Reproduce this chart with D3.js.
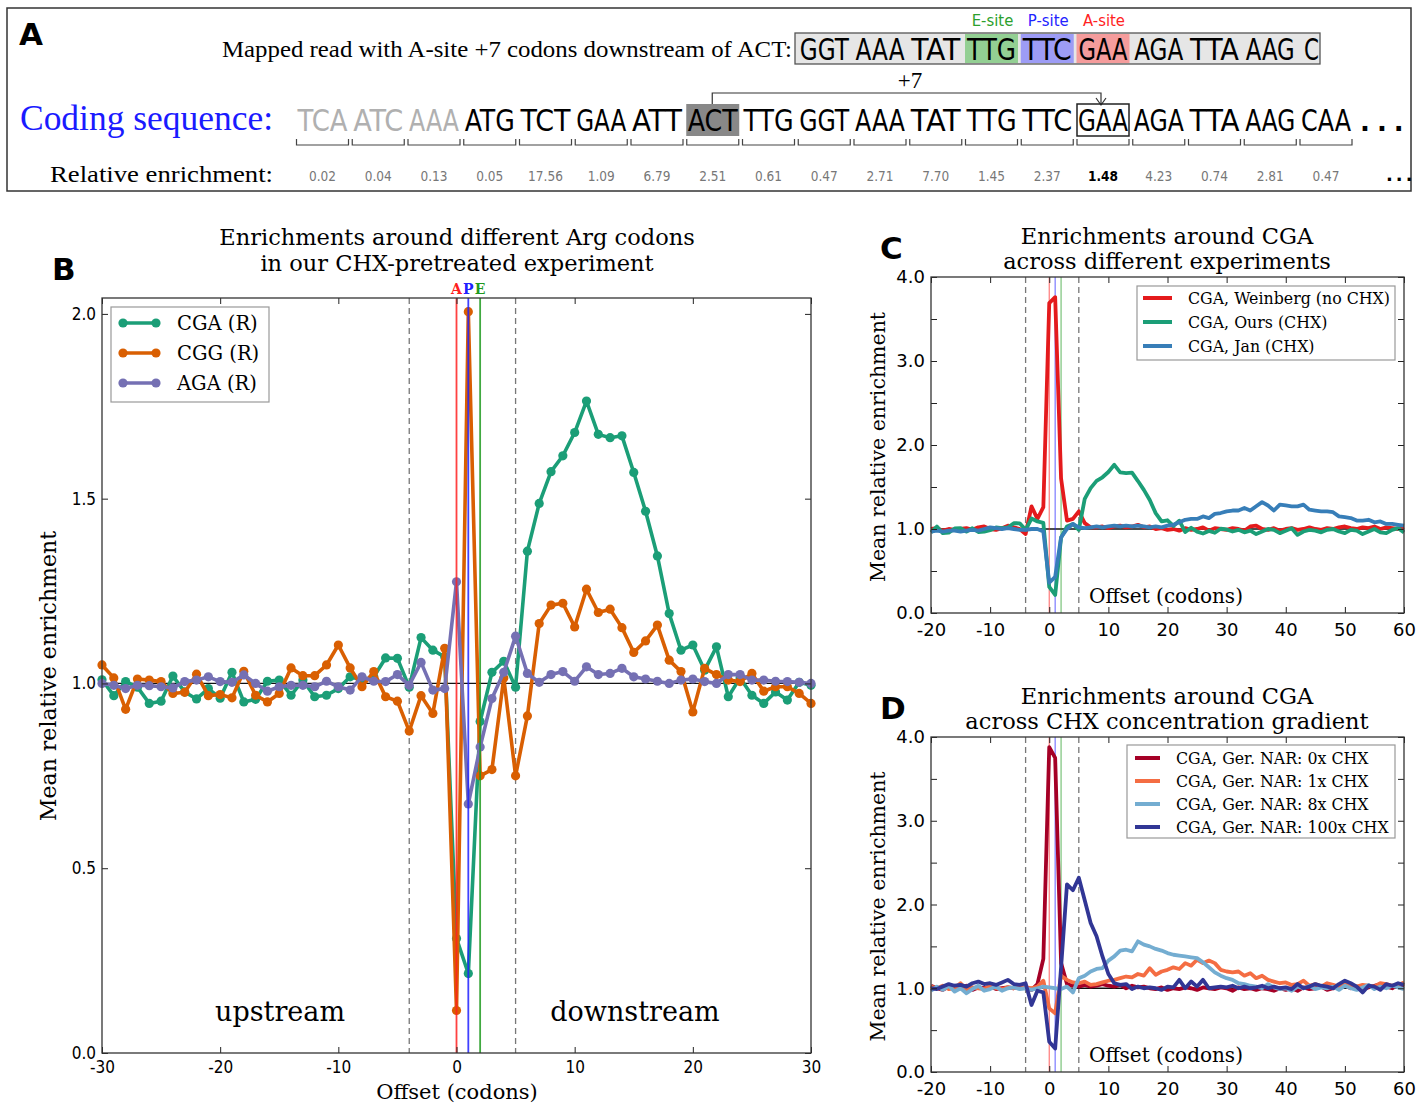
<!DOCTYPE html>
<html><head><meta charset="utf-8">
<script src="https://cdn.jsdelivr.net/npm/d3@7"></script>
<style>body{margin:0;background:#fff}svg{display:block}</style>
</head><body>
<svg id="fig" width="1427" height="1103"></svg>
<script>
// ---------------- DATA ----------------
// Panel A
const codingCodons = ["TCA","ATC","AAA","ATG","TCT","GAA","ATT","ACT","TTG","GGT","AAA","TAT","TTG","TTC","GAA","AGA","TTA","AAG","CAA"];
const codonEnrichment = ["0.02","0.04","0.13","0.05","17.56","1.09","6.79","2.51","0.61","0.47","2.71","7.70","1.45","2.37","1.48","4.23","0.74","2.81","0.47"];
const readCodons = ["GGT","AAA","TAT","TTG","TTC","GAA","AGA","TTA","AAG","C"];
const siteLabels = ["E-site","P-site","A-site"];

// Panel B (offset -30..30)
const offsetsB = d3.range(-30, 31);
const cgaB = [1.01,0.967,1.005,0.99,0.946,0.952,1.02,0.977,0.958,0.986,
  0.96,1.03,0.95,0.957,1.006,1.009,0.968,1.009,0.964,0.968,
  0.986,1.018,1.009,1.018,1.069,1.068,0.99,1.124,1.09,1.072,
  0.31,0.215,0.897,1.03,1.06,0.99,1.358,1.487,1.573,1.616,
  1.679,1.764,1.674,1.665,1.67,1.571,1.466,1.345,1.189,1.09,
  1.104,1.036,1.099,0.964,1.015,0.968,0.946,0.977,0.955,1.003,0.995];
const cggB = [1.05,1.015,0.93,1.012,1.009,1.005,0.973,0.976,1.025,0.967,
  0.97,0.961,1.033,0.968,0.95,0.973,1.042,1.021,1.021,1.05,
  1.104,1.042,0.991,1.032,0.964,0.952,0.871,0.967,0.919,1.095,
  0.115,2.006,0.75,0.767,1.015,0.75,0.912,1.162,1.212,1.217,
  1.153,1.255,1.192,1.201,1.151,1.084,1.115,1.158,1.063,1.032,
  0.923,1.041,1.024,1.009,1.005,1.027,0.979,0.991,0.991,0.973,0.946];
const agaB = [1.0,0.995,0.986,0.995,0.994,0.991,0.988,1.005,1.009,1.018,
  1.005,1.003,1.023,1.0,0.979,0.991,0.995,0.995,0.991,1.006,
  0.991,0.982,1.018,1.006,1.005,1.024,0.995,1.057,0.982,0.986,
  1.275,0.674,0.828,0.959,1.03,1.128,1.027,1.003,1.024,1.032,
  1.006,1.045,1.024,1.027,1.041,1.018,1.012,1.006,1.0,1.009,
  1.012,1.005,1.0,1.024,1.024,1.009,1.009,1.006,1.005,1.003,1.0];
const seriesBNames = ["CGA (R)","CGG (R)","AGA (R)"];

// Panels C, D (offset -20..60)
const offsetsCD = d3.range(-20, 61);
const weinbergC = [1.00,1.01,0.98,1.00,0.99,1.00,1.01,0.99,1.02,1.03,
  1.00,0.99,1.01,1.04,1.02,1.00,0.94,1.27,1.12,1.26,
  3.69,3.76,1.60,1.10,1.12,1.21,1.07,1.02,1.02,1.03,
  1.01,1.03,1.04,1.02,1.03,1.05,1.02,1.03,1.00,1.01,
  0.99,1.00,0.98,1.01,0.99,1.00,1.02,0.98,1.01,1.00,
  0.99,1.01,1.00,0.98,1.03,1.04,1.00,0.99,1.01,0.98,
  1.00,1.01,0.99,1.00,1.02,1.00,0.99,1.01,1.00,1.02,
  1.03,1.01,1.00,1.02,1.01,1.03,1.00,1.02,1.01,1.00,1.02];
const oursC = [0.96,1.03,0.95,0.957,1.006,1.009,0.968,1.009,0.964,0.968,
  0.986,1.018,1.009,1.018,1.069,1.068,0.99,1.124,1.09,1.072,
  0.31,0.215,0.897,1.03,1.06,0.99,1.358,1.487,1.573,1.616,
  1.679,1.764,1.674,1.665,1.67,1.571,1.466,1.345,1.189,1.09,
  1.104,1.036,1.099,0.964,1.015,0.968,0.946,0.977,0.955,1.003,
  0.995,0.97,0.99,0.96,0.98,0.94,0.97,1.0,0.99,0.95,
  0.98,1.01,0.93,0.97,0.99,0.98,0.96,0.99,1.0,0.97,
  0.95,0.99,0.98,0.94,0.97,1.0,0.96,0.95,0.99,1.01,0.96];
const janC = [0.97,0.98,0.97,0.98,0.98,0.97,0.98,0.99,0.98,1.0,
  1.02,1.01,1.0,1.01,1.0,0.99,0.99,1.0,1.0,0.97,
  0.36,0.43,0.9,1.0,1.06,1.02,1.01,1.02,1.03,1.02,
  1.03,1.04,1.03,1.04,1.03,1.04,1.03,1.02,1.03,1.02,
  1.04,1.05,1.08,1.11,1.12,1.12,1.15,1.13,1.18,1.19,
  1.21,1.22,1.22,1.25,1.22,1.27,1.32,1.28,1.22,1.29,
  1.28,1.27,1.27,1.29,1.23,1.22,1.21,1.21,1.2,1.15,
  1.14,1.13,1.1,1.1,1.11,1.08,1.09,1.06,1.06,1.05,1.04];
const seriesCNames = ["CGA, Weinberg (no CHX)","CGA, Ours (CHX)","CGA, Jan (CHX)"];

const chx0D = [1.03,1.0,0.98,1.02,0.99,1.0,1.03,0.98,1.01,1.0,
  1.02,0.99,1.0,1.01,1.0,1.02,1.0,0.98,1.05,1.35,
  3.88,3.75,1.3,1.05,1.03,1.02,1.04,1.02,1.03,1.05,
  1.03,1.02,1.04,1.0,1.03,1.01,1.02,1.0,0.99,1.01,
  0.98,1.0,0.99,1.01,1.0,0.98,1.01,1.0,0.99,1.01,
  1.0,0.97,1.01,0.99,1.0,0.98,1.0,0.99,0.97,1.0,
  0.98,1.0,0.97,1.01,0.99,1.0,1.02,0.98,1.0,1.01,
  1.03,1.0,1.02,0.99,1.01,1.03,1.05,1.02,1.0,1.04,1.02];
const chx1D = [1.02,1.0,1.03,0.99,1.0,1.06,0.98,1.01,1.0,0.99,
  1.03,1.0,0.99,1.01,1.0,1.02,1.01,1.0,1.02,1.09,
  0.76,0.7,1.15,1.1,1.07,1.06,1.08,1.04,1.05,1.07,
  1.09,1.1,1.12,1.14,1.13,1.17,1.15,1.24,1.16,1.2,
  1.22,1.25,1.23,1.3,1.27,1.34,1.3,1.33,1.3,1.22,
  1.2,1.19,1.2,1.15,1.18,1.12,1.15,1.1,1.08,1.06,
  1.07,1.04,1.05,1.09,1.03,1.05,1.02,1.06,1.04,1.02,
  1.05,1.03,1.02,1.04,1.03,1.02,1.06,1.05,1.03,1.04,1.07];
const chx8D = [0.97,1.02,0.98,1.03,0.96,1.0,0.94,0.99,1.03,0.97,
  0.99,1.02,0.97,1.0,1.01,0.99,1.0,0.98,1.0,1.02,
  1.01,1.0,0.99,1.02,0.95,1.12,1.15,1.2,1.23,1.24,
  1.33,1.38,1.45,1.46,1.44,1.56,1.52,1.5,1.47,1.45,
  1.42,1.4,1.39,1.38,1.37,1.36,1.31,1.25,1.19,1.15,
  1.12,1.1,1.06,1.05,1.03,1.02,1.0,1.05,1.01,0.99,
  1.0,0.97,1.02,1.0,1.03,0.99,1.01,1.0,1.02,0.98,
  1.03,1.0,0.98,1.01,1.04,0.99,1.02,1.0,1.03,1.01,0.99];
const chx100D = [1.0,0.99,1.02,1.05,1.03,1.04,1.02,1.06,1.08,1.05,
  1.06,1.04,1.07,1.1,1.05,1.04,1.06,0.8,0.97,0.95,
  0.36,0.28,1.25,2.24,2.17,2.32,2.05,1.78,1.62,1.38,
  1.17,1.06,1.04,1.05,0.99,1.02,1.0,1.01,1.0,0.98,
  1.02,1.01,1.1,1.0,1.08,1.02,1.1,1.0,1.01,1.02,
  1.01,1.03,1.0,1.02,1.0,1.01,1.03,1.0,1.02,1.0,
  1.01,0.99,1.05,1.0,1.02,1.05,1.03,1.02,1.0,1.05,
  1.09,1.06,1.02,0.95,1.03,1.02,0.98,1.05,1.03,1.06,1.04];
const seriesDNames = ["CGA, Ger. NAR: 0x CHX","CGA, Ger. NAR: 1x CHX","CGA, Ger. NAR: 8x CHX","CGA, Ger. NAR: 100x CHX"];

const ticksB_x = [-30,-20,-10,0,10,20,30];
const ticksB_y = [0,0.5,1.0,1.5,2.0];
const ticksCD_x = [-20,-10,0,10,20,30,40,50,60];
const ticksCD_y = [0,0.5,1,1.5,2,2.5,3,3.5,4];

// ---------------- DRAW ----------------
const svg = d3.select("#fig");
svg.append("rect").attr("width",1427).attr("height",1103).attr("fill","#fff");

const SERIF = "'DejaVu Serif', serif";
const TIMES = "'Liberation Serif', 'Times New Roman', serif";
const SANS = "'DejaVu Sans', sans-serif";
const SANSC = "'DejaVu Sans Condensed', 'DejaVu Sans', sans-serif";

// ----- Panel A -----
const A = svg.append("g");
A.append("rect").attr("x",7).attr("y",8).attr("width",1404).attr("height",183)
  .attr("fill","none").attr("stroke","#333").attr("stroke-width",1.5);
A.append("text").attr("x",19).attr("y",45).text("A")
  .style("font-family",SANS).style("font-weight","bold").style("font-size","31px");

const cx = d3.scaleLinear().domain([0, codingCodons.length-1]).range([322.5, 1326]);
const half = 27;

A.append("text").attr("x",222).attr("y",57)
  .attr("textLength",570).attr("lengthAdjust","spacingAndGlyphs")
  .style("font-family",TIMES).style("font-size","23px")
  .text("Mapped read with A-site +7 codons downstream of ACT:");

// mapped read box
A.append("rect").attr("x",795).attr("y",33).attr("width",525).attr("height",31)
  .attr("fill","#e6e6e6").attr("stroke","#555").attr("stroke-width",1.3);
const siteColors = ["#93cf93","#9d9cf5","#f59c9c"];
const siteText = ["#2ca02c","#2222ff","#ff2222"];
[12,13,14].forEach((ci,k)=>{
  A.append("rect").attr("x",cx(ci)-half+0.5).attr("y",34).attr("width",2*half-1).attr("height",29)
    .attr("fill",siteColors[k]);
  A.append("text").attr("x",cx(ci)+1).attr("y",26).attr("text-anchor","middle")
    .style("font-family",SANSC).style("font-size","16.5px").attr("fill",siteText[k])
    .text(siteLabels[k]);
});
readCodons.forEach((c,k)=>{
  const i = 9+k;
  if (c.length===3) {
    A.append("text").attr("x",cx(i)).attr("y",60).attr("text-anchor","middle")
      .attr("textLength",49).attr("lengthAdjust","spacingAndGlyphs")
      .style("font-family",SANSC).style("font-size","31px").text(c);
  } else {
    A.append("text").attr("x",cx(i)-22).attr("y",60)
      .attr("textLength",15).attr("lengthAdjust","spacingAndGlyphs")
      .style("font-family",SANSC).style("font-size","31px").text(c);
  }
});

// +7 bracket
A.append("text").attr("x",910).attr("y",88).attr("text-anchor","middle")
  .style("font-family",TIMES).style("font-size","23px").text("+7");
A.append("path").attr("d",`M${cx(7)-0.5},104 V93 H${cx(14)-2} V105`)
  .attr("fill","none").attr("stroke","#333").attr("stroke-width",1.2);
A.append("path").attr("d",`M${cx(14)-7},98 L${cx(14)-2},105 L${cx(14)+3},98`)
  .attr("fill","none").attr("stroke","#333").attr("stroke-width",1.2);

A.append("text").attr("x",20).attr("y",130)
  .attr("textLength",253).attr("lengthAdjust","spacingAndGlyphs")
  .style("font-family",TIMES).style("font-size","35px").attr("fill","#1a1aff")
  .text("Coding sequence:");
// ACT highlight & GAA box
A.append("rect").attr("x",cx(7)-half+0.5).attr("y",104).attr("width",2*half-1).attr("height",32)
  .attr("fill","#888");
A.append("rect").attr("x",cx(14)-half+1).attr("y",104).attr("width",2*half-2).attr("height",32)
  .attr("fill","none").attr("stroke","#222").attr("stroke-width",1.5);
codingCodons.forEach((c,i)=>{
  A.append("text").attr("x",cx(i)).attr("y",131).attr("text-anchor","middle")
    .attr("textLength",50).attr("lengthAdjust","spacingAndGlyphs")
    .style("font-family",SANSC).style("font-size","31px")
    .attr("fill", i<3 ? "#b0b0b0" : "#000").text(c);
  A.append("path").attr("d",`M${cx(i)-half+1},139 V145 H${cx(i)+half-1} V139`)
    .attr("fill","none").attr("stroke","#444").attr("stroke-width",1.2);
  A.append("text").attr("x",cx(i)).attr("y",181).attr("text-anchor","middle")
    .style("font-family",SANSC).style("font-size","13.5px")
    .style("font-weight", i===14 ? "bold":"normal")
    .attr("fill", i===14 ? "#000" : "#777").text(codonEnrichment[i]);
});
A.append("text").attr("x",1360).attr("y",131)
  .style("font-family",SANS).style("font-size","26px").style("font-weight","bold").attr("letter-spacing","7").text("...");
A.append("text").attr("x",1386).attr("y",181)
  .style("font-family",SANS).style("font-size","18px").style("font-weight","bold").attr("letter-spacing","3").text("...");
A.append("text").attr("x",50).attr("y",182)
  .attr("textLength",223).attr("lengthAdjust","spacingAndGlyphs")
  .style("font-family",TIMES).style("font-size","24px").text("Relative enrichment:");

// ----- axes helper -----
function axesFrame(g, x, y, box, xt, yt, yfmt, tickFont, tickSize, xpad) {
  const gx = g.append("g").attr("transform",`translate(0,${box.b})`)
    .call(d3.axisBottom(x).tickValues(xt).tickSizeInner(-6).tickSizeOuter(0).tickPadding(xpad).tickFormat(d=>String(d)));
  const gxt = g.append("g").attr("transform",`translate(0,${box.t})`)
    .call(d3.axisTop(x).tickValues(xt).tickSizeInner(-6).tickSizeOuter(0).tickFormat(""));
  const gy = g.append("g").attr("transform",`translate(${box.l},0)`)
    .call(d3.axisLeft(y).tickValues(yt).tickSizeInner(-6).tickSizeOuter(0).tickPadding(6).tickFormat(yfmt));
  const gyr = g.append("g").attr("transform",`translate(${box.r},0)`)
    .call(d3.axisRight(y).tickValues(yt).tickSizeInner(-6).tickSizeOuter(0).tickFormat(""));
  [gx,gxt,gy,gyr].forEach(a=>{
    a.select(".domain").remove();
    a.selectAll("line").attr("stroke","#222").attr("stroke-width",1);
    a.selectAll("text").style("font-family",tickFont).style("font-size",tickSize).attr("fill","#000");
  });
  g.append("rect").attr("x",box.l).attr("y",box.t).attr("width",box.r-box.l).attr("height",box.b-box.t)
    .attr("fill","none").attr("stroke","#333").attr("stroke-width",1.3);
}
function guides(g, x, y, box) {
  [-4,5].forEach(v=>g.append("line").attr("x1",x(v)).attr("x2",x(v)).attr("y1",box.t).attr("y2",box.b)
    .attr("stroke","#777").attr("stroke-width",1.3).attr("stroke-dasharray","6,4"));
  g.append("line").attr("x1",box.l).attr("x2",box.r).attr("y1",y(1)).attr("y2",y(1))
    .attr("stroke","#111").attr("stroke-width",1.3);
}
function siteLines(g, x, box, w, op) {
  [[0,"#ff2020"],[1,"#2020ff"],[2,"#1f9a1f"]].forEach(([v,c])=>
    g.append("line").attr("x1",x(v)).attr("x2",x(v)).attr("y1",box.t).attr("y2",box.b)
      .attr("stroke",c).attr("stroke-width",w).attr("stroke-opacity",op));
}

// ----- Panel B -----
const boxB = {l:102, r:811, t:298, b:1053};
const xB = d3.scaleLinear().domain([-30,30]).range([boxB.l, boxB.r]);
const yB = d3.scaleLinear().domain([0,2.043]).range([boxB.b, boxB.t]);
const B = svg.append("g");
B.append("text").attr("x",52).attr("y",280).text("B")
  .style("font-family",SANS).style("font-weight","bold").style("font-size","31px");
B.append("text").attr("x",457).attr("y",245).attr("text-anchor","middle")
  .style("font-family",SERIF).style("font-size","22.5px").text("Enrichments around different Arg codons");
B.append("text").attr("x",457).attr("y",271).attr("text-anchor","middle")
  .style("font-family",SERIF).style("font-size","22.5px").text("in our CHX-pretreated experiment");
guides(B, xB, yB, boxB);
const colorsB = ["#1b9e77","#d95f02","#7570b3"];
const seriesB = [cgaB, cggB, agaB];
const lineB = d3.line().x((d,i)=>xB(offsetsB[i])).y(d=>yB(d));
seriesB.forEach((s,k)=>{
  B.append("path").attr("d",lineB(s)).attr("fill","none").attr("stroke",colorsB[k])
    .attr("stroke-width",3.6).attr("stroke-linejoin","round");
  B.append("g").selectAll("circle").data(s).join("circle")
    .attr("cx",(d,i)=>xB(offsetsB[i])).attr("cy",d=>yB(d)).attr("r",4.6).attr("fill",colorsB[k]);
});
siteLines(B, xB, boxB, 1.8, 0.85);
[["A","#ff2020",0],["P","#2020ff",1],["E","#1f9a1f",2]].forEach(([t,c,v])=>
  B.append("text").attr("x",xB(v)).attr("y",294).attr("text-anchor","middle")
    .style("font-family",SERIF).style("font-weight","bold").style("font-size","14px").attr("fill",c).text(t));
axesFrame(B, xB, yB, boxB, ticksB_x, ticksB_y, d3.format(".1f"), SANSC, "17px", 8);
B.append("text").attr("x",280).attr("y",1021).attr("text-anchor","middle")
  .style("font-family",SERIF).style("font-size","27px").text("upstream");
B.append("text").attr("x",635).attr("y",1021).attr("text-anchor","middle")
  .style("font-family",SERIF).style("font-size","27px").text("downstream");
B.append("text").attr("transform","translate(56,676) rotate(-90)").attr("text-anchor","middle")
  .style("font-family",SERIF).style("font-size","22px").text("Mean relative enrichment");
B.append("text").attr("x",457).attr("y",1099).attr("text-anchor","middle")
  .style("font-family",SERIF).style("font-size","21px").text("Offset (codons)");
// legend B
const lgB = B.append("g");
lgB.append("rect").attr("x",111).attr("y",307).attr("width",158).attr("height",95)
  .attr("fill","#fff").attr("stroke","#999").attr("stroke-width",1.2);
seriesBNames.forEach((n,k)=>{
  const yy = 323 + k*30;
  lgB.append("line").attr("x1",123).attr("x2",156).attr("y1",yy).attr("y2",yy)
    .attr("stroke",colorsB[k]).attr("stroke-width",3.6);
  [123,156].forEach(xx=>lgB.append("circle").attr("cx",xx).attr("cy",yy).attr("r",4.6).attr("fill",colorsB[k]));
  lgB.append("text").attr("x",177).attr("y",yy+7).style("font-family",SERIF).style("font-size","19.5px").text(n);
});

// ----- Panels C & D -----
function panelCD(box, title1, title2, letter, series, colors, names, legBox) {
  const g = svg.append("g");
  const x = d3.scaleLinear().domain([-20,60]).range([box.l, box.r]);
  const y = d3.scaleLinear().domain([0,4]).range([box.b, box.t]);
  g.append("text").attr("x",880).attr("y",box.t-18).text(letter)
    .style("font-family",SANS).style("font-weight","bold").style("font-size","31px");
  g.append("text").attr("x",1167).attr("y",box.t-33).attr("text-anchor","middle")
    .style("font-family",SERIF).style("font-size","22.5px").text(title1);
  g.append("text").attr("x",1167).attr("y",box.t-8).attr("text-anchor","middle")
    .style("font-family",SERIF).style("font-size","22.5px").text(title2);
  guides(g, x, y, box);
  siteLines(g, x, box, 1.2, 0.6);
  const line = d3.line().x((d,i)=>x(offsetsCD[i])).y(d=>y(d));
  series.forEach((s,k)=>g.append("path").attr("d",line(s)).attr("fill","none")
    .attr("stroke",colors[k]).attr("stroke-width",3.8).attr("stroke-linejoin","round"));
  axesFrame(g, x, y, box, ticksCD_x, ticksCD_y, d=>(d%1===0 ? d3.format(".1f")(d) : ""), SANS, "18px", 10);
  g.append("text").attr("x",1089).attr("y",box.b-10)
    .style("font-family",SERIF).style("font-size","20px").text("Offset (codons)");
  g.append("text").attr("transform",`translate(885,${(box.t+box.b)/2+2}) rotate(-90)`).attr("text-anchor","middle")
    .style("font-family",SERIF).style("font-size","20.5px").text("Mean relative enrichment");
  const lg = g.append("g");
  lg.append("rect").attr("x",legBox.x).attr("y",legBox.y).attr("width",legBox.w).attr("height",legBox.h)
    .attr("fill","#fff").attr("stroke","#999").attr("stroke-width",1.2);
  names.forEach((n,k)=>{
    const yy = legBox.y + legBox.first + k*legBox.step;
    lg.append("line").attr("x1",legBox.lx1).attr("x2",legBox.lx2).attr("y1",yy).attr("y2",yy)
      .attr("stroke",colors[k]).attr("stroke-width",4);
    lg.append("text").attr("x",legBox.tx).attr("y",yy+5.5).style("font-family",SERIF).style("font-size","15.8px").text(n);
  });
}
panelCD({l:931, r:1404, t:277, b:613}, "Enrichments around CGA", "across different experiments", "C",
  [weinbergC, oursC, janC], ["#e41a1c","#1b9e77","#377eb8"], seriesCNames,
  {x:1137, y:286, w:258, h:74, first:12, step:24, lx1:1143, lx2:1172, tx:1188});
panelCD({l:931, r:1404, t:737, b:1072}, "Enrichments around CGA", "across CHX concentration gradient", "D",
  [chx0D, chx1D, chx8D, chx100D], ["#a50026","#f46d43","#74add1","#313695"], seriesDNames,
  {x:1127, y:745, w:268, h:93, first:13, step:23, lx1:1135, lx2:1160, tx:1176});
</script>
</body></html>
